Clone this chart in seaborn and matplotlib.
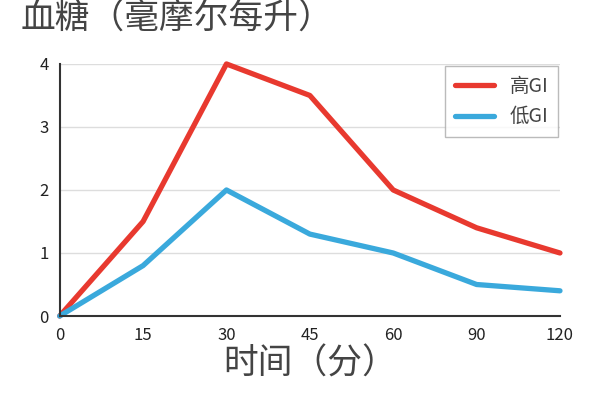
import matplotlib
matplotlib.use("Agg")
import matplotlib.pyplot as plt
import seaborn as sns
import pandas as pd

# 数据
times = ["0", "15", "30", "45", "60", "90", "120"]
high_gi = [0, 1.5, 4, 3.5, 2, 1.4, 1]
low_gi = [0, 0.8, 2, 1.3, 1, 0.5, 0.4]

sns.set_style("white")
plt.rcParams['font.family'] = ['Noto Sans CJK SC', 'DejaVu Sans']

df = pd.DataFrame({
    "时间": list(range(len(times))) * 2,
    "血糖": high_gi + low_gi,
    "组": ["高GI"] * len(times) + ["低GI"] * len(times),
})

fig = plt.figure(figsize=(5.97, 4.18), dpi=100)
ax = fig.add_axes([0.1, 0.244, 0.838, 0.603])
sns.lineplot(data=df, x="时间", y="血糖", hue="组",
             palette={"高GI": "#e8392f", "低GI": "#3aa9dc"},
             linewidth=3.8, ax=ax, clip_on=False)

ax.set_xlim(0, len(times) - 1)
ax.set_ylim(0, 4)
ax.set_xticks(range(len(times)))
ax.set_xticklabels(times)
ax.set_yticks([0, 1, 2, 3, 4])
ax.tick_params(labelsize=12, colors="#222222", length=0, pad=8)
ax.yaxis.grid(True, color="#dddddd", linewidth=1)
for s in ["top", "right"]:
    ax.spines[s].set_visible(False)
for s in ["left", "bottom"]:
    ax.spines[s].set_color("#333333")
    ax.spines[s].set_linewidth(1.5)
ax.set_xlabel("时间（分）", fontsize=25, color="#444444", labelpad=2)
ax.set_ylabel("")
fig.text(0.035, 0.995, "血糖（毫摩尔每升）", fontsize=25, color="#444444",
         ha="left", va="top")

leg = ax.legend(loc="upper right", bbox_to_anchor=(1.0, 1.0), fontsize=14,
                frameon=True, fancybox=False, handlelength=2.0,
                borderpad=0.5, labelspacing=0.5, borderaxespad=0.1)
leg.get_frame().set_edgecolor("#aaaaaa")
for t in leg.get_texts():
    t.set_color("#444444")

fig.savefig("out.png", dpi=100)
